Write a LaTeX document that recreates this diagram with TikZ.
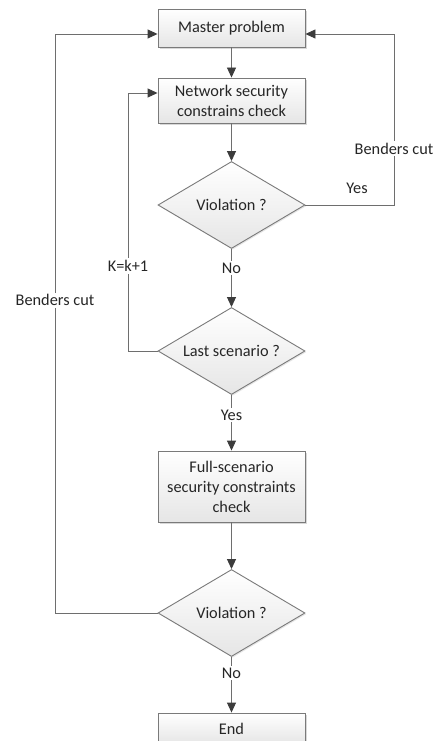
\documentclass[tikz,border=0pt]{standalone}
\usepackage{fontspec}
\setmainfont{Carlito}
\usetikzlibrary{arrows.meta,shapes.geometric,shadows,calc}
\definecolor{edgegray}{HTML}{7A7A7A}
\definecolor{linegray}{HTML}{6E6E6E}
\definecolor{headgray}{HTML}{3C3C3C}
\definecolor{textgray}{HTML}{262626}
\tikzset{
  every node/.style={font=\fontsize{16.3}{20}\selectfont, text=textgray},
  procbox/.style={rectangle, draw=edgegray, line width=0.9pt,
    top color=white, bottom color=black!10,
    minimum width=147pt, align=center, inner sep=0pt,
    drop shadow={shadow xshift=1.6pt, shadow yshift=-1.6pt, fill=black!30, opacity=0.5}},
  decision/.style={diamond, draw=edgegray, line width=0.9pt,
    top color=white, bottom color=black!10,
    minimum width=147pt, minimum height=87pt, inner sep=0pt, aspect=1.7,
    drop shadow={shadow xshift=1.2pt, shadow yshift=-1.2pt, fill=black!25, opacity=0.4}},
  flow/.style={draw=linegray, line width=0.9pt,
    -{Triangle[length=10pt,width=9pt]}, arrows={[color=headgray, fill=headgray]}},
  tag/.style={fill=white, inner sep=2pt},
}
\begin{document}
\begin{tikzpicture}[x=1pt,y=-1pt]
  \useasboundingbox (0,0) rectangle (440,741);
  \fill[white] (0,0) rectangle (440,741);

  % process steps and decisions
  \node[procbox, minimum height=38pt] (master) at (231.5,28) {Master problem};
  \node[procbox, minimum height=45pt] (net) at (231.5,100.5) {Network security\\constrains check};
  \node[decision] (viol1) at (231.5,205) {Violation ?};
  \node[decision] (last) at (231.5,351) {Last scenario ?};
  \node[procbox, minimum height=71pt] (full) at (231.5,486.5) {Full-scenario\\security constraints\\check};
  \node[decision] (viol2) at (231.5,613) {Violation ?};
  \node[procbox, minimum height=31pt] (end) at (231.5,728.5) {End};

  % loop corners
  \coordinate (rtop) at (394,34);
  \coordinate (rbot) at (394,205);
  \coordinate (ktop) at (128,93);
  \coordinate (kbot) at (128,351);
  \coordinate (ltop) at (55,34);
  \coordinate (lbot) at (55,613);

  % main flow
  \draw[flow] (master) -- (net);
  \draw[flow] (net) -- (viol1);
  \draw[flow] (viol1) -- node[tag, pos=0.33] (no1) {No} (last);
  \draw[flow] (last) -- node[tag, pos=0.36] (yes2) {Yes} (full);
  \draw[flow] (full) -- (viol2);
  \draw[flow] (viol2) -- node[tag, pos=0.29] (no2) {No} (end);

  % feedback loops
  \draw[flow] (viol1.east) -- (rbot) -- node[tag, pos=0.33] (bc1) {Benders cut} (rtop)
    -- ($(master.east)+(0,6)$);
  \node (yes1) at (357,188) {Yes};
  \draw[flow] (last.west) -- (kbot) -- node[tag, pos=0.33] (kk) {K=k+1} (ktop)
    -- ($(net.west)+(0,-7.5)$);
  \draw[flow] (viol2.west) -- (lbot) -- node[tag, pos=0.54] (bc2) {Benders cut} (ltop)
    -- ($(master.west)+(0,6)$);
\end{tikzpicture}
\end{document}
